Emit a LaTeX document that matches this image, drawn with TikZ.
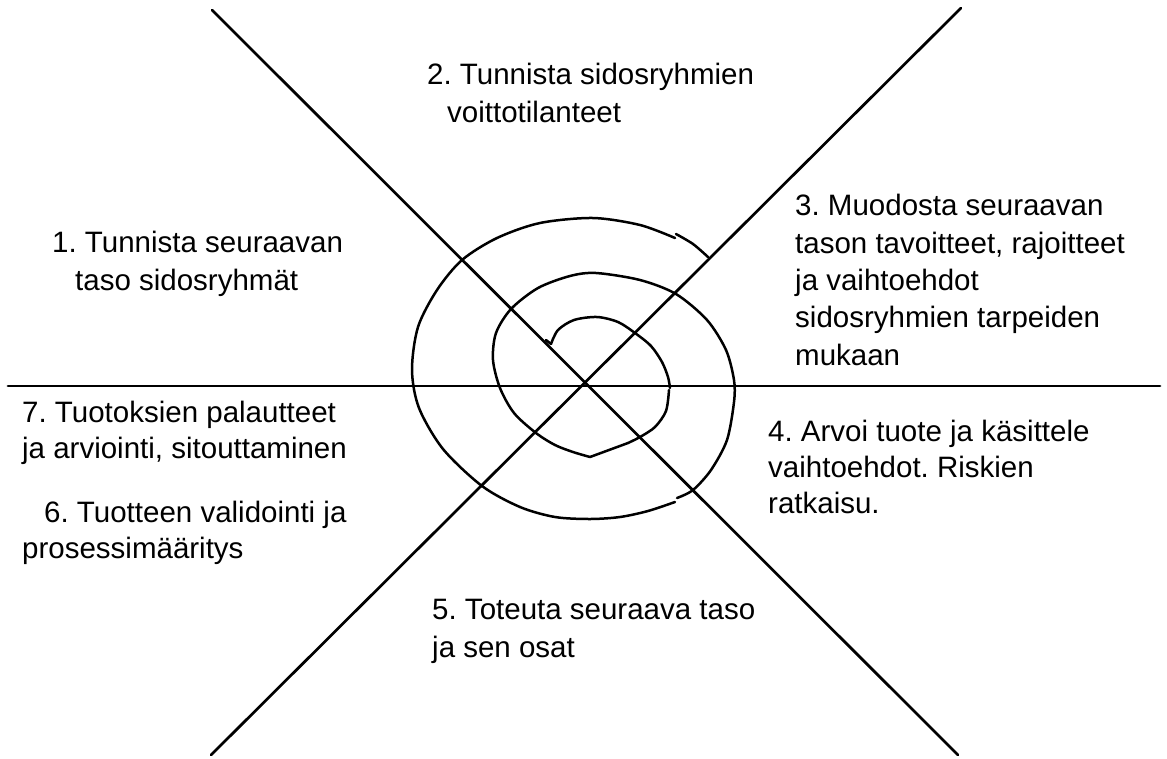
\documentclass[tikz,border=0pt]{standalone}
\usepackage{fontspec}
\setmainfont{Liberation Sans}
\frenchspacing
\tikzset{
  axisline/.style={line width=2.7pt, line cap=round},
  spiral/.style={line width=2.5pt, line join=round, line cap=round},
  lbl/.style={anchor=base west, align=left, inner sep=0pt, font=\fontsize{29.5}{37.3}\selectfont},
}
\begin{document}
\begin{tikzpicture}[x=1pt,y=-1pt]
\useasboundingbox (0,0) rectangle (1167,758);
% axes
\coordinate (nw) at (212,10);
\coordinate (se) at (958,755);
\coordinate (ne) at (961,8);
\coordinate (sw) at (211,755);
\coordinate (w) at (8,386);
\coordinate (e) at (1160,386);
\draw[axisline] (nw) -- (se);
\draw[axisline] (ne) -- (sw);
\draw[axisline] (w) -- (e);
% spiral
\draw[spiral] (546,340) -- (551,344);
\draw[spiral] plot[smooth] coordinates {(551,344) (558,330) (574,320) (597,317) (618,322) (635,333) (651,346) (662,362) (668,377) (670,388)};
\draw[spiral] plot[smooth] coordinates {(669,390) (666,411) (655,427) (640,437) (628,443)} -- (590,457);
\draw[spiral] plot[smooth] coordinates {(590,457) (573,452) (555,445) (536,433) (514,413) (500,388) (493,360) (496,333) (511,309) (538,288) (570,276) (596,273) (640,280) (676,294) (707,320) (726,350) (734,380) (734,402) (727,440) (711,470) (693,490) (677,498)};
\draw[spiral] plot[smooth] coordinates {(675,502) (648,511) (620,517) (590,519) (555,517) (520,507) (482,486) (443,449) (419,408) (412,370) (418,327) (437,290) (462,260) (497,238) (540,223) (593,218) (640,225) (675,238)};
\draw[spiral] plot[smooth] coordinates {(676,234) (693,244) (708,257)};
% labels (anchor = baseline of the last line)
\node[lbl] (l1) at (52,290) {1. Tunnista seuraavan\\\hspace*{23pt}taso sidosryhmät};
\node[lbl] (l2) at (427,122) {2. Tunnista sidosryhmien\\\hspace*{20pt}voittotilanteet};
\node[lbl] (l3) at (795,365) {3. Muodosta seuraavan\\tason tavoitteet, rajoitteet\\ja vaihtoehdot\\sidosryhmien tarpeiden\\mukaan};
\node[lbl, font=\fontsize{29.5}{35.8}\selectfont] (l4) at (768,513) {4. Arvoi tuote ja käsittele\\vaihtoehdot. Riskien\\ratkaisu.};
\node[lbl, font=\fontsize{29.5}{36}\selectfont] (l7) at (22,458) {7. Tuotoksien palautteet\\ja arviointi, sitouttaminen};
\node[lbl, font=\fontsize{29.5}{36}\selectfont] (l6) at (22,558) {\hspace*{22pt}6. Tuotteen validointi ja\\prosessimääritys};
\node[lbl] (l5) at (432,657) {5. Toteuta seuraava taso\\ja sen osat};
\end{tikzpicture}
\end{document}
